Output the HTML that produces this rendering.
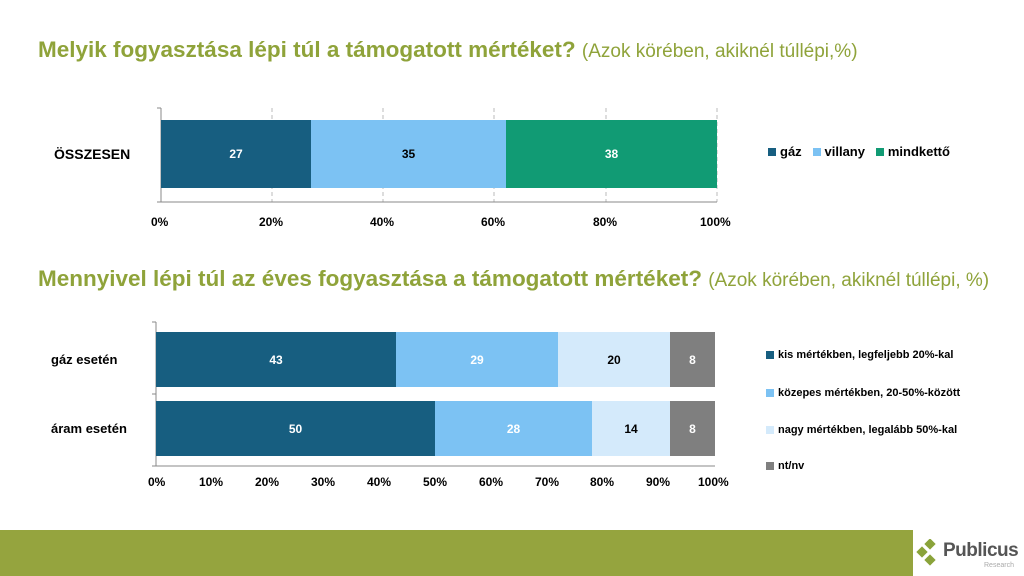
<!DOCTYPE html><html><head><style>
body{margin:0;width:1024px;height:576px;background:#fff;position:relative;overflow:hidden;font-family:"Liberation Sans",sans-serif}
.t{position:absolute;left:38px;color:#8fa33a;font-weight:bold;font-size:22.5px;white-space:nowrap}
.t span{font-weight:normal;font-size:19px}
.a{position:absolute;font-size:12px;font-weight:bold;color:#000}
.b{position:absolute;display:flex;align-items:center;justify-content:center;font-size:12px;font-weight:bold}
.lg{position:absolute;font-size:12px;font-weight:bold;display:flex;align-items:center}
.sq{width:8px;height:8px;margin-right:4px;display:inline-block}
</style></head><body>
<div class="t" style="top:37px">Melyik fogyasztása lépi túl a támogatott mértéket? <span>(Azok körében, akiknél túllépi,%)</span></div>
<div class="t" style="top:266px">Mennyivel lépi túl az éves fogyasztása a támogatott mértéket? <span>(Azok körében, akiknél túllépi, %)</span></div>
<svg width="1024" height="576" style="position:absolute;left:0;top:0">
<g stroke="#bbb" stroke-dasharray="4,3"><line x1="272" y1="108" x2="272" y2="202"/><line x1="383" y1="108" x2="383" y2="202"/><line x1="494" y1="108" x2="494" y2="202"/><line x1="606" y1="108" x2="606" y2="202"/><line x1="717" y1="108" x2="717" y2="202"/></g>
<g stroke="#888"><line x1="161" y1="108" x2="161" y2="202"/><line x1="157" y1="108" x2="161" y2="108"/><line x1="157" y1="202" x2="717" y2="202"/></g>
<g stroke="#888"><line x1="156" y1="322" x2="156" y2="466"/><line x1="152" y1="322" x2="156" y2="322"/><line x1="152" y1="394" x2="156" y2="394"/><line x1="152" y1="466" x2="715" y2="466"/></g>
</svg>
<div class="a" style="left:54px;top:146px;font-size:14px">ÖSSZESEN</div>
<div class="b" style="left:161px;top:120px;width:150px;height:68px;background:#175e80;color:#fff">27</div>
<div class="b" style="left:311px;top:120px;width:195px;height:68px;background:#7cc2f3;color:#000">35</div>
<div class="b" style="left:506px;top:120px;width:211px;height:68px;background:#119b74;color:#fff">38</div>
<div class="a" style="left:151px;top:215px">0%</div><div class="a" style="left:259px;top:215px">20%</div><div class="a" style="left:370px;top:215px">40%</div><div class="a" style="left:481px;top:215px">60%</div><div class="a" style="left:593px;top:215px">80%</div><div class="a" style="left:700px;top:215px">100%</div>
<div class="lg" style="left:768px;top:144px;font-size:13px"><span class="sq" style="background:#175e80"></span>gáz&nbsp;&nbsp;&nbsp;<span class="sq" style="background:#7cc2f3"></span>villany&nbsp;&nbsp;&nbsp;<span class="sq" style="background:#119b74"></span>mindkettő</div>
<div class="a" style="left:51px;top:352px;font-size:13px">gáz esetén</div>
<div class="a" style="left:51px;top:421px;font-size:13px">áram esetén</div>
<div class="b" style="left:156px;top:332px;width:240px;height:55px;background:#175e80;color:#fff">43</div>
<div class="b" style="left:396px;top:332px;width:162px;height:55px;background:#7cc2f3;color:#fff">29</div>
<div class="b" style="left:558px;top:332px;width:112px;height:55px;background:#d4eafb;color:#000">20</div>
<div class="b" style="left:670px;top:332px;width:45px;height:55px;background:#7f7f7f;color:#fff">8</div>
<div class="b" style="left:156px;top:401px;width:279px;height:55px;background:#175e80;color:#fff">50</div>
<div class="b" style="left:435px;top:401px;width:157px;height:55px;background:#7cc2f3;color:#fff">28</div>
<div class="b" style="left:592px;top:401px;width:78px;height:55px;background:#d4eafb;color:#000">14</div>
<div class="b" style="left:670px;top:401px;width:45px;height:55px;background:#7f7f7f;color:#fff">8</div>
<div class="a" style="left:148px;top:475px">0%</div><div class="a" style="left:199px;top:475px">10%</div><div class="a" style="left:255px;top:475px">20%</div><div class="a" style="left:311px;top:475px">30%</div><div class="a" style="left:367px;top:475px">40%</div><div class="a" style="left:423px;top:475px">50%</div><div class="a" style="left:479px;top:475px">60%</div><div class="a" style="left:535px;top:475px">70%</div><div class="a" style="left:590px;top:475px">80%</div><div class="a" style="left:646px;top:475px">90%</div><div class="a" style="left:698px;top:475px">100%</div>
<div class="lg" style="left:766px;top:349px;font-size:11px"><span class="sq" style="background:#175e80"></span>kis mértékben, legfeljebb 20%-kal</div>
<div class="lg" style="left:766px;top:387px;font-size:11px"><span class="sq" style="background:#7cc2f3"></span>közepes mértékben, 20-50%-között</div>
<div class="lg" style="left:766px;top:424px;font-size:11px"><span class="sq" style="background:#d4eafb"></span>nagy mértékben, legalább 50%-kal</div>
<div class="lg" style="left:766px;top:460px;font-size:11px"><span class="sq" style="background:#7f7f7f"></span>nt/nv</div>
<div style="position:absolute;left:0;top:530px;width:913px;height:46px;background:#95a43e"></div>
<svg width="30" height="30" style="position:absolute;left:916px;top:539px"><g fill="#8aa33a"><rect x="10" y="1" width="8" height="8" transform="rotate(45 14 5)"/><rect x="2" y="9" width="8" height="8" transform="rotate(45 6 13)"/><rect x="10" y="17" width="8" height="8" transform="rotate(45 14 21)"/></g></svg>
<div style="position:absolute;left:943px;top:540px;font-size:19px;font-weight:bold;color:#555;letter-spacing:-0.5px">Publicus</div>
<div style="position:absolute;left:984px;top:562px;font-size:7px;color:#aaa">Research</div>
</body></html>
